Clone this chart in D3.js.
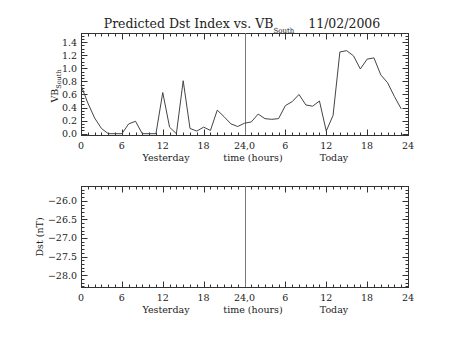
<!DOCTYPE html>
<html>
<head>
<meta charset="utf-8">
<script src="https://cdn.jsdelivr.net/npm/d3@7"></script>
<style>
  html, body { margin: 0; padding: 0; background: #fff; }
  svg { display: block; }
  text { font-family: "DejaVu Serif", serif; fill: #222; }
</style>
</head>
<body>
<svg id="chart" width="453" height="340"></svg>
<script>
// ---------- data ----------
const hours = d3.range(0, 48); // hourly samples, yesterday 0h .. today 23h
const vbSouth = [0.74, 0.47, 0.24, 0.08, 0.0, 0.0, 0.0, 0.15, 0.19, 0.0,
                 0.0, 0.0, 0.63, 0.1, 0.0, 0.81, 0.08, 0.04, 0.1, 0.05,
                 0.36, 0.26, 0.15, 0.11, 0.16, 0.18, 0.3, 0.23, 0.22, 0.23,
                 0.43, 0.49, 0.6, 0.44, 0.42, 0.5, 0.04, 0.28, 1.25, 1.27,
                 1.19, 0.99, 1.14, 1.16, 0.9, 0.78, 0.57, 0.38];
const xTickValues = [0, 6, 12, 18, 24, 30, 36, 42, 48];
const xTickLabels = ["0", "6", "12", "18", "24,0", "6", "12", "18", "24"];
const vbTicks = [0.0, 0.2, 0.4, 0.6, 0.8, 1.0, 1.2, 1.4];
const dstTicks = [-26.0, -26.5, -27.0, -27.5, -28.0];
const dayLabels = ["Yesterday", "time (hours)", "Today"];
const titleMain = "Predicted Dst Index vs. VB";
const titleSub = "South";
const titleDate = "11/02/2006";

// ---------- layout ----------
const svg = d3.select("#chart");
const X0 = 81, X1 = 408;
const x = d3.scaleLinear().domain([0, 48]).range([X0, X1]);

function drawPanel(top, bottom, y, majors, minorStep, fmt) {
  const g = svg.append("g");
  g.append("rect").attr("x", X0 + 0.5).attr("y", top + 0.5)
    .attr("width", X1 - X0).attr("height", bottom - top)
    .attr("fill", "none").attr("stroke", "#333").attr("stroke-width", 1);
  const xMinor = d3.range(0, 49, 1);
  xMinor.forEach(h => {
    const len = (h % 6 === 0) ? 6 : 3;
    const px = Math.round(x(h)) + 0.5;
    g.append("line").attr("x1", px).attr("x2", px).attr("y1", bottom + 0.5).attr("y2", bottom + 0.5 - len)
      .attr("stroke", "#333");
    g.append("line").attr("x1", px).attr("x2", px).attr("y1", top + 0.5).attr("y2", top + 0.5 + len)
      .attr("stroke", "#333");
  });
  const [d0, d1] = y.domain();
  const lo = Math.min(d0, d1), hi = Math.max(d0, d1);
  const minors = d3.range(Math.ceil(lo / minorStep - 1e-6), Math.floor(hi / minorStep + 1e-6) + 1)
    .map(k => k * minorStep);
  minors.forEach(v => {
    const isMajor = majors.some(m => Math.abs(m - v) < 1e-6);
    const len = isMajor ? 6 : 3;
    const py = Math.round(y(v)) + 0.5;
    g.append("line").attr("x1", X0 + 0.5).attr("x2", X0 + 0.5 + len).attr("y1", py).attr("y2", py)
      .attr("stroke", "#333");
    g.append("line").attr("x1", X1 + 0.5).attr("x2", X1 + 0.5 - len).attr("y1", py).attr("y2", py)
      .attr("stroke", "#333");
  });
  majors.forEach(v => {
    g.append("text").attr("x", 77).attr("y", y(v) + 3.5)
      .attr("text-anchor", "end").attr("font-size", 9.5).text(fmt(v));
  });
  xTickValues.forEach((v, i) => {
    g.append("text").attr("x", x(v)).attr("y", bottom + 14)
      .attr("text-anchor", "middle").attr("font-size", 9.5).text(xTickLabels[i]);
  });
  const dayX = [166, 253, 334];
  dayLabels.forEach((t, i) => {
    g.append("text").attr("x", dayX[i]).attr("y", bottom + 25.5)
      .attr("text-anchor", "middle").attr("font-size", 9.5).text(t);
  });
  g.append("line").attr("x1", Math.round(x(24)) + 0.5).attr("x2", Math.round(x(24)) + 0.5)
    .attr("y1", top).attr("y2", bottom).attr("stroke", "#777");
  return g;
}

// top panel: VB south
const yTop = d3.scaleLinear().domain([-0.02, 1.54]).range([135, 33]);
drawPanel(33, 135, yTop, vbTicks, 0.05, d3.format(".1f"));

const line = d3.line().x((d, i) => x(hours[i])).y(d => yTop(d));
svg.append("path").datum(vbSouth).attr("d", line)
  .attr("fill", "none").attr("stroke", "#444").attr("stroke-width", 1);

// bottom panel: Dst (empty)
const yBot = d3.scaleLinear().domain([-28.32, -25.6]).range([287, 186]);
drawPanel(186, 287, yBot, dstTicks, 0.1, v => d3.format(".1f")(v).replace("-", "\u2212"));

// title
const title = svg.append("text").attr("x", 242).attr("y", 28)
  .attr("text-anchor", "middle").attr("font-size", 12.5);
title.append("tspan").text(titleMain);
title.append("tspan").attr("font-size", 7).attr("dy", 5).text(titleSub);
title.append("tspan").attr("dy", -5).attr("dx", 14).text(titleDate);

// y axis labels
const ylab = svg.append("text").attr("transform", "translate(58,86) rotate(-90)")
  .attr("text-anchor", "middle").attr("font-size", 9.5);
ylab.append("tspan").text("VB");
ylab.append("tspan").attr("font-size", 6.5).attr("dy", 3).text("South");

svg.append("text").attr("transform", "translate(43,237) rotate(-90)")
  .attr("text-anchor", "middle").attr("font-size", 9.5).text("Dst (nT)");
</script>
</body>
</html>
